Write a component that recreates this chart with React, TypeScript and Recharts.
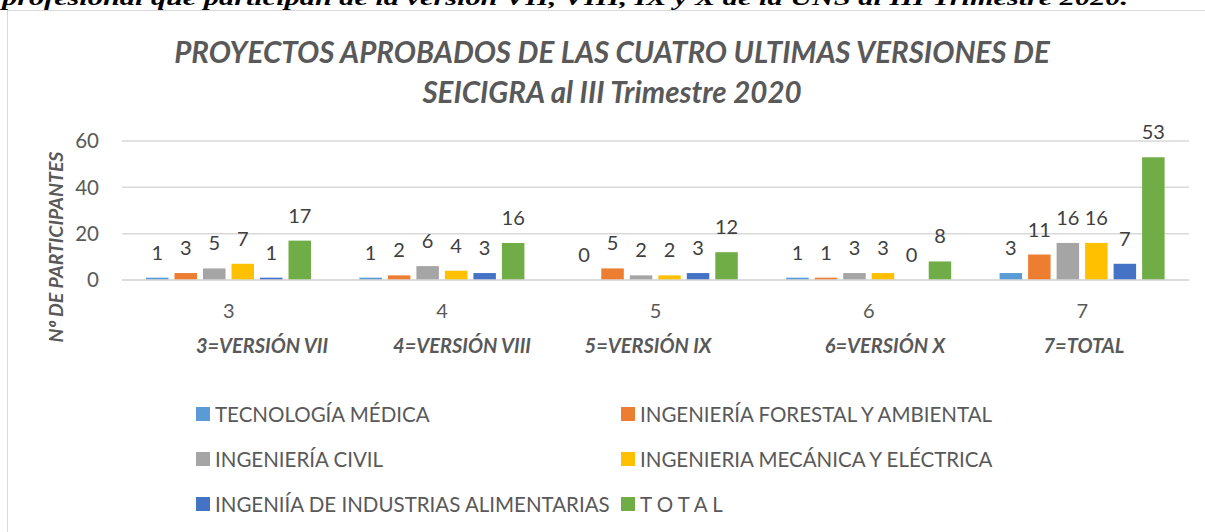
import React from 'react';
import { BarChart, Bar, XAxis, YAxis, CartesianGrid, LabelList, Legend } from 'recharts';

const categories = ['3', '4', '5', '6', '7'];
const versionLabels = ['3=VERSIÓN VII', '4=VERSIÓN VIII', '5=VERSIÓN IX', '6=VERSIÓN X', '7=TOTAL'];
const versionCenters = [262, 462, 648, 885, 1084];

const seriesNames = [
  'TECNOLOGÍA MÉDICA',
  'INGENIERÍA FORESTAL Y AMBIENTAL',
  'INGENIERÍA CIVIL',
  'INGENIERIA MECÁNICA Y ELÉCTRICA',
  'INGENIÍA DE INDUSTRIAS ALIMENTARIAS',
  'T O T A L',
];
const tecnologiaMedica = [1, 1, 0, 1, 3];
const ingForestal = [3, 2, 5, 1, 11];
const ingCivil = [5, 6, 2, 3, 16];
const ingMecanica = [7, 4, 2, 3, 16];
const ingAlimentarias = [1, 3, 3, 0, 7];
const total = [17, 16, 12, 8, 53];
const seriesValues = [tecnologiaMedica, ingForestal, ingCivil, ingMecanica, ingAlimentarias, total];
const colors = ['#5B9BD5', '#ED7D31', '#A5A5A5', '#FFC000', '#4472C4', '#70AD47'];
const yTicks = [0, 20, 40, 60];

const data = categories.map((c, i) => {
  const row: Record<string, string | number> = { cat: c };
  seriesValues.forEach((vals, s) => {
    row['s' + s] = vals[i];
  });
  return row;
});

const FONT = 'Lato, "Open Sans", sans-serif';
const TEXT = '#595959';

const renderLegend = (props: any) => {
  const payload = (props.payload || []).slice();
  payload.sort((a: any, b: any) => seriesNames.indexOf(a.value) - seriesNames.indexOf(b.value));
  return (
    <div
      style={{
        display: 'grid',
        gridTemplateColumns: '425px 420px',
        rowGap: 0,
        fontFamily: FONT,
        fontSize: 20.5,
        color: TEXT,
      }}
    >
      {payload.map((p: any, i: number) => (
        <div key={i} style={{ display: 'flex', alignItems: 'center', height: 45, whiteSpace: 'nowrap' }}>
          <span style={{ display: 'inline-block', width: 14, height: 14, background: p.color, marginRight: 5 }} />
          <span>{p.value}</span>
        </div>
      ))}
    </div>
  );
};

export default function App() {
  return (
    <div style={{ position: 'absolute', left: 0, top: 0, width: 1205, height: 532, overflow: 'hidden', background: '#fff' }}>
      <svg width={1205} height={20} style={{ position: 'absolute', left: 0, top: 0 }}>
        <text
          x={2}
          y={5}
          textLength={1126}
          lengthAdjust="spacingAndGlyphs"
          style={{ fontFamily: '"Liberation Serif", "DejaVu Serif", serif', fontWeight: 'bold', fontStyle: 'italic', fontSize: 21 }}
          fill="#000"
        >
          profesional que participan de la versión VII, VIII, IX y X de la UNS al III Trimestre 2020.
        </text>
      </svg>
      <div
        style={{
          position: 'absolute',
          left: 7,
          top: 10,
          width: 1205,
          height: 600,
          border: '1.5px solid #D9D9D9',
          boxSizing: 'border-box',
        }}
      />
      <div
        style={{
          position: 'absolute',
          left: 0,
          top: 32,
          width: 1224,
          textAlign: 'center',
          fontFamily: FONT,
          fontWeight: 'bold',
          fontStyle: 'italic',
          fontSize: 29.5,
          lineHeight: '40px',
          color: TEXT,
        }}
      >
        PROYECTOS APROBADOS DE LAS CUATRO ULTIMAS VERSIONES DE
        <br />
        SEICIGRA al III Trimestre 2020
      </div>
      <div
        style={{
          position: 'absolute',
          left: 55,
          top: 247,
          transform: 'translate(-50%, -50%) rotate(-90deg)',
          whiteSpace: 'nowrap',
          fontFamily: FONT,
          fontWeight: 'bold',
          fontStyle: 'italic',
          fontSize: 19.5,
          color: TEXT,
        }}
      >
        N<span style={{ fontFamily: '"Open Sans", sans-serif' }}>º</span> DE PARTICIPANTES
      </div>
      {versionLabels.map((v, i) => (
        <div
          key={v}
          style={{
            position: 'absolute',
            left: versionCenters[i],
            top: 333,
            transform: 'translateX(-50%)',
            whiteSpace: 'nowrap',
            fontFamily: FONT,
            fontWeight: 'bold',
            fontStyle: 'italic',
            fontSize: 20,
            lineHeight: '24px',
            color: TEXT,
          }}
        >
          {v}
        </div>
      ))}
      <div style={{ position: 'absolute', left: 0, top: 0 }}>
        <BarChart
          width={1205}
          height={532}
          data={data}
          margin={{ top: 141, right: 16, left: 62, bottom: 212 }}
          barSize={22.5}
          barGap={6}
        >
          <CartesianGrid vertical={false} stroke="#D9D9D9" strokeWidth={1.5} />
          <XAxis
            dataKey="cat"
            height={40}
            tickLine={false}
            axisLine={{ stroke: '#D9D9D9', strokeWidth: 1.5 }}
            tick={{ fill: TEXT, fontSize: 20, fontFamily: FONT }}
            tickMargin={18}
          />
          <YAxis
            width={60}
            domain={[0, 60]}
            ticks={yTicks}
            axisLine={false}
            tickLine={false}
            tickMargin={17}
            tick={{ fill: TEXT, fontSize: 20.5, fontFamily: FONT }}
          />
          <Legend
            layout="horizontal"
            verticalAlign="middle"
            align="center"
            itemSorter={null as any}
            content={renderLegend}
            wrapperStyle={{ position: 'absolute', left: 196, top: 391, width: 900, height: 140 }}
          />
          {seriesNames.map((name, s) => (
            <Bar key={name} dataKey={'s' + s} name={name} fill={colors[s]} minPointSize={0.01} isAnimationActive={false}>
              <LabelList
                dataKey={'s' + s}
                position="top"
                offset={18}
                style={{ fill: '#404040', fontSize: 20, fontFamily: FONT }}
              />
            </Bar>
          ))}
        </BarChart>
      </div>
    </div>
  );
}
